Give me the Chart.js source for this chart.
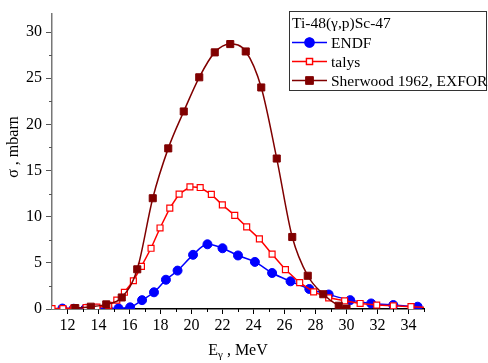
<!DOCTYPE html>
<html>
<head>
<meta charset="utf-8">
<script src="https://cdn.jsdelivr.net/npm/chart.js@4/dist/chart.umd.min.js"></script>
<style>
  html, body { margin: 0; padding: 0; background: #fff; }
  #wrap { width: 488px; height: 363px; }
</style>
</head>
<body>
<div id="wrap"><canvas id="c" width="488" height="363"></canvas></div>
<script>
// ---- data ----
const endfEnergy = [11.67, 12.4, 13.15, 13.9, 14.6, 15.29, 16.04, 16.81, 17.58, 18.35, 19.1, 20.1, 21.03, 22.0, 23.0, 24.09, 25.2, 26.39, 27.6, 28.85, 30.24, 31.59, 33.02, 34.59];
const endfSigma  = [0.05, 0.03, 0.02, 0.02, 0.03, 0.07, 0.18, 0.96, 1.81, 3.17, 4.16, 5.87, 7.01, 6.58, 5.8, 5.1, 3.9, 3.0, 2.17, 1.57, 0.96, 0.6, 0.43, 0.25];

const talysEnergy = [11.0, 11.7, 12.4, 13.2, 13.9, 14.66, 15.18, 15.67, 16.25, 16.77, 17.39, 17.97, 18.6, 19.2, 19.9, 20.56, 21.28, 21.99, 22.79, 23.56, 24.38, 25.2, 26.06, 26.98, 27.88, 28.85, 29.88, 30.88, 31.95, 33.02, 34.16, 35.0];
const talysSigma  = [0.05, 0.05, 0.1, 0.15, 0.2, 0.39, 0.96, 1.81, 3.06, 4.62, 6.58, 8.78, 10.92, 12.45, 13.23, 13.16, 12.41, 11.28, 10.14, 8.89, 7.6, 5.94, 4.27, 2.85, 1.85, 1.21, 0.89, 0.6, 0.43, 0.35, 0.25, 0.2];

const sherEnergy = [12.5, 13.5, 14.5, 15.5, 16.5, 17.5, 18.5, 19.5, 20.5, 21.5, 22.5, 23.5, 24.5, 25.5, 26.5, 27.5, 28.5, 29.5, 30.0];
const sherSigma  = [0.1, 0.25, 0.5, 1.25, 4.3, 12.0, 17.4, 21.4, 25.1, 27.8, 28.7, 27.9, 24.0, 16.3, 7.8, 3.6, 1.6, 0.35, 0.05];

const xTickValues = [12, 14, 16, 18, 20, 22, 24, 26, 28, 30, 32, 34];
const yTickValues = [0, 5, 10, 15, 20, 25, 30];
const xMinorValues = [13, 15, 17, 19, 21, 23, 25, 27, 29, 31, 33, 35];
const yMinorValues = [2.5, 7.5, 12.5, 17.5, 22.5, 27.5];

const legendTitle = 'Ti-48(\u03b3,p)Sc-47';
const seriesLabels = ['ENDF', 'talys', 'Sherwood 1962, EXFOR'];
const xTitleMain = 'E';
const xTitleSub = '\u03b3';
const xTitleRest = ' , MeV';
const yTitle = '\u03c3 , mbarn';

// ---- build ----
const pts = (xs, ys) => xs.map((x, i) => ({ x: x, y: ys[i] }));
const SERIF = '"Liberation Serif", "Times New Roman", serif';

const extras = {
  id: 'extras',
  afterDraw(chart) {
    const ctx = chart.ctx;
    const xs = chart.scales.x, ys = chart.scales.y;
    const ca = chart.chartArea;
    ctx.save();
    // minor ticks
    ctx.lineWidth = 1;
    ctx.strokeStyle = '#000';
    xMinorValues.forEach(v => {
      const px = Math.round(xs.getPixelForValue(v)) + 0.5;
      ctx.beginPath(); ctx.moveTo(px, ca.bottom); ctx.lineTo(px, ca.bottom + 3); ctx.stroke();
    });
    ctx.strokeStyle = '#555';
    yMinorValues.forEach(v => {
      const py = Math.round(ys.getPixelForValue(v)) + 0.5;
      ctx.beginPath(); ctx.moveTo(ca.left, py); ctx.lineTo(ca.left - 3, py); ctx.stroke();
    });

    // x title with subscript
    ctx.fillStyle = '#000';
    ctx.textBaseline = 'alphabetic';
    ctx.textAlign = 'left';
    const big = '16px ' + SERIF, small = '11px ' + SERIF;
    ctx.font = big; const w1 = ctx.measureText(xTitleMain).width;
    const w3 = ctx.measureText(xTitleRest).width;
    ctx.font = small; const w2 = ctx.measureText(xTitleSub).width;
    const total = w1 + w2 + w3;
    let tx = (ca.left + ca.right) / 2 - total / 2;
    const tyBase = 355;
    ctx.font = big; ctx.fillText(xTitleMain, tx, tyBase); tx += w1;
    ctx.font = small; ctx.fillText(xTitleSub, tx, tyBase + 3); tx += w2;
    ctx.font = big; ctx.fillText(xTitleRest, tx, tyBase);

    // y title
    ctx.save();
    ctx.translate(18, 147);
    ctx.rotate(-Math.PI / 2);
    ctx.font = big;
    ctx.textAlign = 'center';
    ctx.fillText(yTitle, 0, 0);
    ctx.restore();

    // legend
    const bx = 289.5, by = 11.5, bw = 197, bh = 79;
    ctx.fillStyle = '#fff';
    ctx.fillRect(bx, by, bw, bh);
    ctx.strokeStyle = '#333';
    ctx.lineWidth = 1;
    ctx.strokeRect(bx, by, bw, bh);
    ctx.fillStyle = '#000';
    ctx.font = '15.5px ' + SERIF;
    ctx.textAlign = 'left';
    ctx.textBaseline = 'middle';
    ctx.fillText(legendTitle, 292, 24);
    const rows = [42.5, 61.5, 80.5];
    chart.data.datasets.forEach((ds, i) => {
      const yy = rows[i];
      ctx.strokeStyle = ds.borderColor;
      ctx.lineWidth = 1.5;
      ctx.beginPath(); ctx.moveTo(292, yy); ctx.lineTo(327, yy); ctx.stroke();
      Chart.helpers.drawPoint(ctx, {
        pointStyle: ds.pointStyle,
        radius: ds.legendRadius,
        borderWidth: ds.pointBorderWidth,
        rotation: 0
      }, 309.5, yy);
      ctx.fillStyle = ds.pointBackgroundColor;
      ctx.strokeStyle = ds.pointBorderColor;
      ctx.lineWidth = ds.pointBorderWidth;
      ctx.beginPath();
      if (ds.pointStyle === 'circle') {
        ctx.arc(309.5, yy, ds.legendRadius, 0, Math.PI * 2);
      } else {
        const s = ds.legendRadius / Math.SQRT2;
        ctx.rect(309.5 - s, yy - s, 2 * s, 2 * s);
      }
      ctx.fill(); ctx.stroke();
      ctx.fillStyle = '#000';
      ctx.fillText(ds.label, 331, yy + 1);
    });
    ctx.restore();
  }
};

const talysRadius = talysEnergy.map((e, i) => i === talysEnergy.length - 1 ? 0 : 4.2);

new Chart(document.getElementById('c'), {
  type: 'scatter',
  data: {
    datasets: [
      {
        label: seriesLabels[0],
        data: pts(endfEnergy, endfSigma),
        showLine: true,
        borderColor: '#0000ff',
        backgroundColor: '#0000ff',
        pointBackgroundColor: '#0000ff',
        pointBorderColor: '#0000ff',
        pointStyle: 'circle',
        pointRadius: 4.5,
        legendRadius: 4.5,
        pointBorderWidth: 1,
        borderWidth: 1.5,
        cubicInterpolationMode: 'monotone',
        order: 3
      },
      {
        label: seriesLabels[1],
        data: pts(talysEnergy, talysSigma),
        showLine: true,
        borderColor: '#ff0000',
        backgroundColor: '#ffffff',
        pointBackgroundColor: '#ffffff',
        pointBorderColor: '#ff0000',
        pointStyle: 'rect',
        pointRadius: talysRadius,
        legendRadius: 4.2,
        pointBorderWidth: 1.2,
        borderWidth: 1.5,
        tension: 0,
        order: 2
      },
      {
        label: seriesLabels[2],
        data: pts(sherEnergy, sherSigma),
        showLine: true,
        borderColor: '#800000',
        backgroundColor: '#800000',
        pointBackgroundColor: '#800000',
        pointBorderColor: '#800000',
        pointStyle: 'rect',
        pointRadius: 5,
        legendRadius: 5,
        pointBorderWidth: 1,
        borderWidth: 1.5,
        cubicInterpolationMode: 'monotone',
        order: 1
      }
    ]
  },
  options: {
    responsive: false,
    animation: false,
    devicePixelRatio: 1,
    layout: { padding: { left: 0, right: 64, top: 9, bottom: 0 } },
    plugins: { legend: { display: false }, tooltip: { enabled: false } },
    scales: {
      x: {
        type: 'linear',
        min: 11, max: 35,
        afterBuildTicks: s => { s.ticks = xTickValues.map(v => ({ value: v })); },
        afterFit: s => { s.height = 54; },
        ticks: { font: { family: SERIF, size: 16 }, color: '#000', maxRotation: 0, autoSkip: false, padding: 2 },
        grid: { drawOnChartArea: false, tickLength: 5, tickColor: '#000', tickWidth: 1 },
        border: { color: '#000', width: 1.5 }
      },
      y: {
        type: 'linear',
        min: 0, max: 32,
        afterBuildTicks: s => { s.ticks = yTickValues.map(v => ({ value: v })); },
        afterFit: s => { s.width = 52; },
        ticks: { font: { family: SERIF, size: 16 }, color: '#000', padding: 4 },
        grid: { drawOnChartArea: false, tickLength: 6, tickColor: '#555', tickWidth: 1 },
        border: { color: '#777', width: 1.5 }
      }
    }
  },
  plugins: [extras]
});
</script>
</body>
</html>
